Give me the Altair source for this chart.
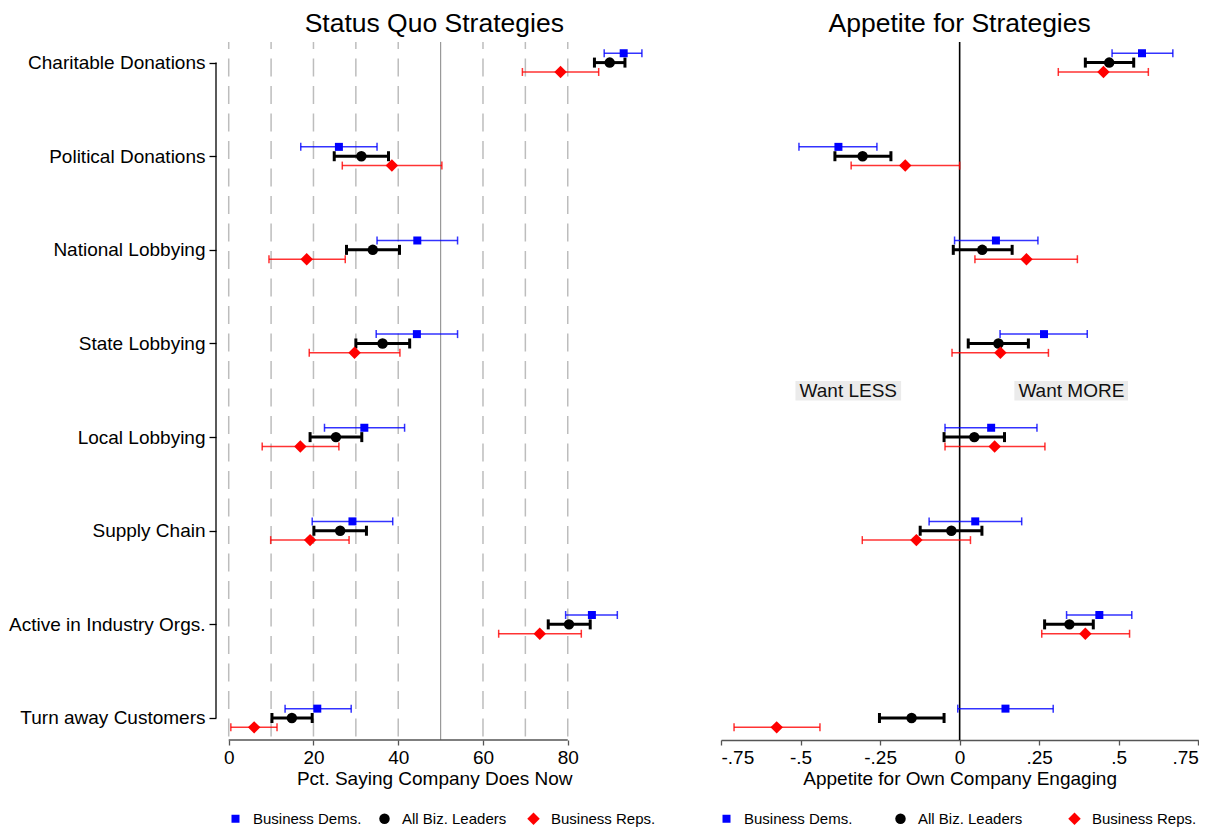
import json
import altair as alt
import pandas as pd

FONT = "Liberation Sans"

categories = [
    "Charitable Donations", "Political Donations", "National Lobbying",
    "State Lobbying", "Local Lobbying", "Supply Chain",
    "Active in Industry Orgs.", "Turn away Customers",
]
groups = ["Business Dems.", "All Biz. Leaders", "Business Reps."]
group_colors = ["#0000ff", "#000000", "#ff0000"]
group_shapes = ["square", "circle", "diamond"]

# Status quo: percent saying company does now (estimate, lower CI, upper CI)
sq_dem = [93.2, 26.0, 44.5, 44.4, 32.0, 29.2, 85.7, 20.9]
sq_dem_lo = [88.6, 17.0, 35.0, 34.8, 22.6, 19.7, 79.5, 13.3]
sq_dem_hi = [97.5, 35.0, 54.0, 54.0, 41.5, 38.7, 91.7, 28.9]
sq_all = [89.9, 31.3, 34.0, 36.3, 25.3, 26.3, 80.3, 14.9]
sq_all_lo = [86.3, 24.9, 27.8, 30.0, 19.2, 20.1, 75.4, 10.2]
sq_all_hi = [93.5, 37.7, 40.3, 42.7, 31.4, 32.5, 85.3, 19.7]
sq_rep = [78.3, 38.5, 18.4, 29.7, 16.9, 19.2, 73.4, 6.0]
sq_rep_lo = [69.3, 26.8, 9.5, 19.0, 7.9, 9.9, 63.7, 0.5]
sq_rep_hi = [87.3, 50.3, 27.5, 40.4, 26.0, 28.4, 83.2, 11.4]

# Appetite for own company engaging
ap_dem = [0.573, -0.381, 0.114, 0.265, 0.099, 0.049, 0.439, 0.144]
ap_dem_lo = [0.479, -0.505, -0.016, 0.127, -0.046, -0.096, 0.336, -0.006]
ap_dem_hi = [0.670, -0.260, 0.246, 0.401, 0.243, 0.195, 0.541, 0.294]
ap_all = [0.470, -0.305, 0.071, 0.122, 0.046, -0.026, 0.345, -0.151]
ap_all_lo = [0.395, -0.392, -0.020, 0.027, -0.049, -0.124, 0.267, -0.252]
ap_all_hi = [0.547, -0.216, 0.165, 0.216, 0.141, 0.070, 0.420, -0.049]
ap_rep = [0.452, -0.171, 0.210, 0.128, 0.110, -0.136, 0.395, -0.575]
ap_rep_lo = [0.310, -0.341, 0.048, -0.024, -0.046, -0.306, 0.258, -0.709]
ap_rep_hi = [0.593, 0.000, 0.370, 0.279, 0.268, 0.034, 0.534, -0.439]

# Axis ticks / reference lines
sq_ticks = [0, 20, 40, 60, 80]
sq_grid = [0, 10, 20, 30, 40, 60, 70, 80]
sq_ref = [50]
ap_ticks = [-0.75, -0.5, -0.25, 0, 0.25, 0.5, 0.75]
ap_tick_labels = ["-.75", "-.5", "-.25", "0", ".25", ".5", ".75"]
ap_ref = [0]

# Annotations
notes = ["Want LESS", "Want MORE"]
note_x = [-0.35, 0.351]
note_y = [4.505, 4.505]
note_x0 = [-0.516, 0.172]
note_x1 = [-0.184, 0.529]
note_y0 = [4.40, 4.40]
note_y1 = [4.61, 4.61]

OFFSET = {"Business Dems.": -0.1, "All Biz. Leaders": 0.0, "Business Reps.": 0.1}
# style per group: (line width, cap height, opacity)
STYLE = {"Business Dems.": (1.5, 8, 0.8), "All Biz. Leaders": (3, 10, 1.0),
         "Business Reps.": (1.5, 8, 0.8)}


def build(series):
    rows = []
    for g, (est, lo, hi) in zip(groups, series):
        for i, c in enumerate(categories):
            rows.append(dict(cat=c, idx=i + 1, ypos=i + 1 + OFFSET[g], group=g,
                             est=est[i], lo=lo[i], hi=hi[i]))
    return pd.DataFrame(rows)


sq_df = build([(sq_dem, sq_dem_lo, sq_dem_hi), (sq_all, sq_all_lo, sq_all_hi),
               (sq_rep, sq_rep_lo, sq_rep_hi)])
ap_df = build([(ap_dem, ap_dem_lo, ap_dem_hi), (ap_all, ap_all_lo, ap_all_hi),
               (ap_rep, ap_rep_lo, ap_rep_hi)])

W1, W2, H = 436.5, 477.3, 698
Y_DOMAIN = [0.78, 8.235]

color_scale = alt.Scale(domain=groups, range=group_colors)
shape_scale = alt.Scale(domain=groups, range=group_shapes)
size_scale = alt.Scale(domain=groups, range=[64, 155, 85])

yscale = alt.Scale(domain=Y_DOMAIN, reverse=True, nice=False, zero=False)
y_axis_left = alt.Axis(
    values=list(range(1, len(categories) + 1)),
    labelExpr=json.dumps(categories) + "[datum.value - 1]",
    domain=False, grid=False, ticks=True, tickSize=7, tickColor="#000",
    tickWidth=1.3, labelFontSize=19, labelPadding=4, labelColor="#000",
    labelLimit=400, title=None,
)


def yenc(field, axis):
    return alt.Y(field, type="quantitative", scale=yscale, axis=axis)


sq_xscale = alt.Scale(domain=[-3, 100], nice=False, zero=False)
sq_xaxis = alt.Axis(values=sq_ticks, domain=False, grid=False, tickSize=5,
                    tickColor="#555", tickWidth=1.3, labelFontSize=19, labelPadding=3,
                    title="Pct. Saying Company Does Now", titleFontSize=19,
                    titlePadding=2, titleFontWeight="normal")

ap_xscale = alt.Scale(domain=[-0.75, 0.75], nice=False, zero=False)
ap_xaxis = alt.Axis(values=ap_ticks,
                    labelExpr=json.dumps(ap_tick_labels) + "[indexof(" + json.dumps(ap_ticks) + ", datum.value)]",
                    domain=True, domainColor="#555", domainWidth=1.5, grid=False,
                    tickSize=5, tickColor="#555", tickWidth=1.3, labelFontSize=19,
                    labelPadding=3, title="Appetite for Own Company Engaging",
                    titleFontSize=19, titlePadding=2, titleFontWeight="normal")


def series_layers(df, xscale, xaxis, yaxis, legend):
    def xenc(field):
        return alt.X(field, type="quantitative", scale=xscale, axis=xaxis)

    base = alt.Chart(df)
    layers = []
    for g, colr in zip(groups, group_colors):
        sw, cap, op = STYLE[g]
        sub = base.transform_filter(alt.datum.group == g)
        layers.append(sub.mark_rule(strokeWidth=sw, opacity=op, color=colr).encode(
            x=xenc("lo"), x2="hi", y=yenc("ypos", yaxis)))
        for f in ["lo", "hi"]:
            layers.append(sub.mark_tick(orient="vertical", size=cap, thickness=sw,
                                        opacity=op, color=colr).encode(
                x=xenc(f), y=yenc("ypos", yaxis)))
    layers.append(base.mark_point(filled=True, opacity=1).encode(
        x=xenc("est"), y=yenc("ypos", yaxis),
        color=alt.Color("group:N", scale=color_scale, legend=legend),
        shape=alt.Shape("group:N", scale=shape_scale, legend=legend),
        size=alt.Size("group:N", scale=size_scale, legend=legend),
    ))
    return layers


def make_legend(lx, pad):
    return alt.Legend(title=None, orient="none", legendX=lx, legendY=769,
                      direction="horizontal", labelFontSize=15, labelFont=FONT,
                      labelColor="#000", columnPadding=pad, labelOffset=10,
                      gridAlign="all", padding=0, symbolStrokeWidth=0)


# ---------- left panel ----------
def sq_x(field):
    return alt.X(field, type="quantitative", scale=sq_xscale, axis=sq_xaxis)


grid_df = pd.DataFrame({"v": sq_grid})
ref_df = pd.DataFrame({"v": sq_ref})
left_layers = [
    alt.Chart(grid_df).mark_rule(color="#bdbdbd", strokeWidth=1.5, strokeDash=[18, 9.5],
                                 strokeDashOffset=11).encode(x=sq_x("v")),
    alt.Chart(ref_df).mark_rule(color="#999999", strokeWidth=1.2).encode(x=sq_x("v")),
    alt.Chart(pd.DataFrame({"a": [min(sq_ticks)], "b": [max(sq_ticks)]})).mark_rule(
        color="#555", strokeWidth=1.5).encode(x=sq_x("a"), x2="b", y=alt.value(H)),
    alt.Chart(pd.DataFrame({"a": [1], "b": [len(categories)]})).mark_rule(
        color="#000", strokeWidth=1.3).encode(x=alt.value(0), y=yenc("a", y_axis_left), y2="b"),
]
left_layers += series_layers(sq_df, sq_xscale, sq_xaxis, y_axis_left, make_legend(12, 15))
left = alt.layer(*left_layers).properties(
    width=W1, height=H, title="Status Quo Strategies")

# ---------- right panel ----------
def ap_x(field):
    return alt.X(field, type="quantitative", scale=ap_xscale, axis=ap_xaxis)


note_df = pd.DataFrame({"t": notes, "x": note_x, "y": note_y, "x0": note_x0,
                        "x1": note_x1, "y0": note_y0, "y1": note_y1})
right_layers = [
    alt.Chart(pd.DataFrame({"v": ap_ref})).mark_rule(color="#000", strokeWidth=1.6).encode(x=ap_x("v")),
    alt.Chart(note_df).mark_rect(color="#ebebeb").encode(
        x=ap_x("x0"), x2="x1", y=yenc("y0", None), y2="y1"),
    alt.Chart(note_df).mark_text(fontSize=19, font=FONT, color="#111").encode(
        x=ap_x("x"), y=yenc("y", None), text="t:N"),
]
right_layers += series_layers(ap_df, ap_xscale, ap_xaxis, None, make_legend(-2, 40))
right = alt.layer(*right_layers).properties(
    width=W2, height=H, title="Appetite for Strategies")

chart = alt.hconcat(left, right, spacing=68, bounds="flush").resolve_scale(
    color="independent", shape="independent", size="independent"
).resolve_legend(
    color="independent", shape="independent", size="independent"
).properties(padding={"left": 0, "top": 2, "right": 0, "bottom": 0}).configure(
    font=FONT).configure_view(stroke=None).configure_axis(
    labelFont=FONT, titleFont=FONT, labelColor="#000", titleColor="#000"
).configure_title(font=FONT, fontSize=26.5, fontWeight="normal", anchor="middle",
                  frame="group", offset=4, color="#000")

chart.save("out.html", embed_options={"renderer": "svg", "actions": False})
